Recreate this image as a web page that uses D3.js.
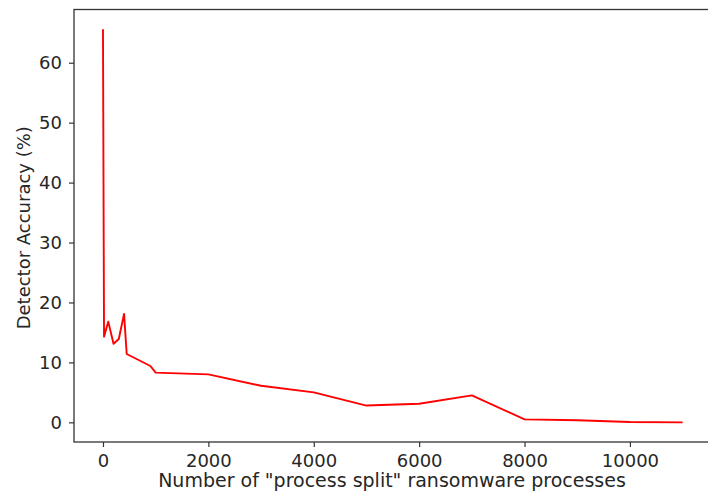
<!DOCTYPE html>
<html><head><meta charset="utf-8">
<script src="https://cdn.jsdelivr.net/npm/d3@7/dist/d3.min.js"></script>
<style>
html,body{margin:0;padding:0;background:#fff;}
svg text{font-family:"DejaVu Sans",sans-serif;fill:#262626;}
</style></head>
<body><svg id="c" width="708" height="496"></svg>
<script>
const processes = [0, 20, 100, 200, 300, 400, 450, 900, 1000, 2000, 3000, 4000, 5000, 6000, 7000, 8000, 9000, 10000, 11000];
const accuracy  = [65.6, 14.3, 16.8, 13.1, 13.9, 18.1, 11.4, 9.4, 8.3, 8.0, 6.1, 5.0, 2.8, 3.1, 4.5, 0.5, 0.35, 0.05, 0.0];
const xTicks = [0, 2000, 4000, 6000, 8000, 10000];
const yTicks = [0, 10, 20, 30, 40, 50, 60];
const xLabel = 'Number of "process split" ransomware processes';
const yLabel = 'Detector Accuracy (%)';

const svg = d3.select("#c");
const L = 74, T = 9.5, R = 711.6, B = 442;
const x = d3.scaleLinear().domain([-550, 11550]).range([L, R]);
const y = d3.scaleLinear().domain([-3.28, 68.88]).range([B, T]);

const data = processes.map((p, i) => ({p, a: accuracy[i]}));

svg.append("clipPath").attr("id","clp").append("rect")
  .attr("x", L).attr("y", T).attr("width", R - L).attr("height", B - T);

svg.append("path").datum(data)
  .attr("clip-path","url(#clp)")
  .attr("fill","none").attr("stroke","#ff0000").attr("stroke-width",1.9)
  .attr("stroke-linejoin","round")
  .attr("d", d3.line().x(d => x(d.p)).y(d => y(d.a)));

const fs = 18;
const xa = svg.append("g").attr("transform", `translate(0,${B})`)
  .call(d3.axisBottom(x).tickValues(xTicks).tickFormat(d3.format("d")).tickSize(5).tickPadding(7));
const ya = svg.append("g").attr("transform", `translate(${L},0)`)
  .call(d3.axisLeft(y).tickValues(yTicks).tickFormat(d3.format("d")).tickSize(5).tickPadding(7));
[xa, ya].forEach(g => {
  g.select(".domain").remove();
  g.selectAll("line").attr("stroke","#333").attr("stroke-width",1.2);
  g.selectAll("text").attr("font-size", fs).style("font-family","DejaVu Sans").attr("fill","#262626");
});

svg.append("rect").attr("x", L).attr("y", T).attr("width", R - L).attr("height", B - T)
  .attr("fill","none").attr("stroke","#333").attr("stroke-width",1.3);

svg.append("text").attr("x", 392).attr("y", 487)
  .attr("text-anchor","middle").attr("font-size", 19).text(xLabel);
svg.append("text").attr("transform", `translate(30,${(T + B) / 2 + 2}) rotate(-90)`)
  .attr("text-anchor","middle").attr("font-size", fs).text(yLabel);
</script></body></html>
